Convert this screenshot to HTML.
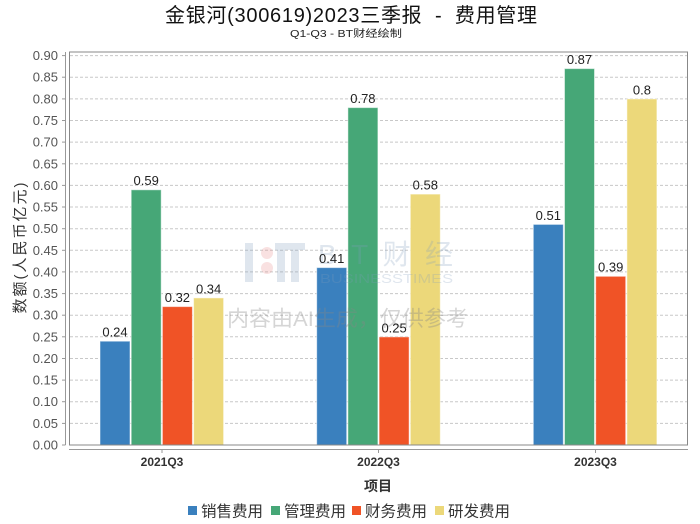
<!DOCTYPE html>
<html><head><meta charset="utf-8"><style>
html,body{margin:0;padding:0;background:#fff;}
svg{display:block;}
text{font-family:"Liberation Sans","Noto Sans CJK SC",sans-serif;}
</style></head><body>
<svg width="700" height="524" viewBox="0 0 700 524" xmlns="http://www.w3.org/2000/svg">
<rect width="700" height="524" fill="#fff"/>
<!-- title -->
<text x="351" y="22" font-size="20" fill="#111" textLength="372" lengthAdjust="spacing" text-anchor="middle">金银河(300619)2023三季报&#160;&#160;-&#160;&#160;费用管理</text>
<text x="346" y="37" font-size="10" fill="#222" textLength="112" lengthAdjust="spacingAndGlyphs" text-anchor="middle" font-family="'Liberation Mono','Noto Sans CJK SC',monospace">Q1-Q3&#160;-&#160;BT财经绘制</text>

<!-- gridlines -->
<g stroke="#c8c8c8" stroke-width="1" stroke-dasharray="3,2">
<line x1="70" x2="687" y1="423.4" y2="423.4"/>
<line x1="70" x2="687" y1="401.7" y2="401.7"/>
<line x1="70" x2="687" y1="380.1" y2="380.1"/>
<line x1="70" x2="687" y1="358.5" y2="358.5"/>
<line x1="70" x2="687" y1="336.8" y2="336.8"/>
<line x1="70" x2="687" y1="315.2" y2="315.2"/>
<line x1="70" x2="687" y1="293.6" y2="293.6"/>
<line x1="70" x2="687" y1="271.9" y2="271.9"/>
<line x1="70" x2="687" y1="250.3" y2="250.3"/>
<line x1="70" x2="687" y1="228.7" y2="228.7"/>
<line x1="70" x2="687" y1="207.0" y2="207.0"/>
<line x1="70" x2="687" y1="185.4" y2="185.4"/>
<line x1="70" x2="687" y1="163.8" y2="163.8"/>
<line x1="70" x2="687" y1="142.1" y2="142.1"/>
<line x1="70" x2="687" y1="120.5" y2="120.5"/>
<line x1="70" x2="687" y1="98.9" y2="98.9"/>
<line x1="70" x2="687" y1="77.2" y2="77.2"/>
<line x1="70" x2="687" y1="55.6" y2="55.6"/>
</g>

<!-- bars -->
<g stroke="#ffffff" stroke-opacity="0.5" stroke-width="1">
<rect x="100" y="341.2" width="30" height="103.8" fill="#3a80be"/>
<rect x="131.2" y="189.8" width="30" height="255.2" fill="#46a777"/>
<rect x="162.4" y="306.6" width="30" height="138.4" fill="#f05326"/>
<rect x="193.6" y="297.9" width="30" height="147.1" fill="#ecd87a"/>

<rect x="316.7" y="267.6" width="30" height="177.4" fill="#3a80be"/>
<rect x="347.9" y="107.6" width="30" height="337.4" fill="#46a777"/>
<rect x="379.1" y="336.9" width="30" height="108.1" fill="#f05326"/>
<rect x="410.3" y="194.1" width="30" height="250.9" fill="#ecd87a"/>

<rect x="533.3" y="224.4" width="30" height="220.6" fill="#3a80be"/>
<rect x="564.5" y="68.6" width="30" height="376.4" fill="#46a777"/>
<rect x="595.7" y="276.3" width="30" height="168.7" fill="#f05326"/>
<rect x="626.9" y="98.9" width="30" height="346.1" fill="#ecd87a"/>
</g>

<!-- watermark (on top, translucent) -->
<g>
<rect x="245" y="243" width="8" height="39" fill="#7f9bbb" fill-opacity="0.25"/>
<circle cx="267" cy="253" r="6" fill="#e88888" fill-opacity="0.25"/>
<circle cx="267" cy="268" r="6" fill="#e88888" fill-opacity="0.25"/>
<rect x="275" y="243" width="30" height="7" fill="#7f9bbb" fill-opacity="0.25"/>
<rect x="277" y="250" width="8" height="32" fill="#7f9bbb" fill-opacity="0.25"/>
<rect x="291" y="250" width="8" height="32" fill="#7f9bbb" fill-opacity="0.25"/>
<text x="318" y="264" font-size="28" fill="#7f9bbb" fill-opacity="0.25" font-family="'Liberation Serif','Noto Serif CJK SC',serif" textLength="135" lengthAdjust="spacing">BT财经</text>
<text x="320" y="283" font-size="13" fill="#7f9bbb" fill-opacity="0.25" font-family="'Liberation Serif',serif" textLength="133" lengthAdjust="spacingAndGlyphs">BUSINESSTIMES</text>
<text x="227" y="326" font-size="21.5" fill="#888888" fill-opacity="0.35" textLength="241" lengthAdjust="spacingAndGlyphs">内容由AI生成，仅供参考</text>
</g>

<!-- bar labels -->
<g font-size="13" fill="#222" text-anchor="middle">
<text x="115" y="336.5">0.24</text>
<text x="146.2" y="185.2">0.59</text>
<text x="177.4" y="302">0.32</text>
<text x="208.6" y="293.3">0.34</text>
<text x="331.7" y="263">0.41</text>
<text x="362.9" y="103">0.78</text>
<text x="394.1" y="332.3">0.25</text>
<text x="425.3" y="189.5">0.58</text>
<text x="548.3" y="219.8">0.51</text>
<text x="579.5" y="64">0.87</text>
<text x="610.7" y="271.7">0.39</text>
<text x="641.9" y="94.3">0.8</text>
</g>

<!-- plot frame -->
<rect x="69.5" y="52" width="618" height="393" fill="none" stroke="#888" stroke-width="1"/>
<!-- y axis -->
<line x1="65.5" y1="52" x2="65.5" y2="445" stroke="#999" stroke-width="1"/>
<g stroke="#999" stroke-width="1">
<line x1="62" x2="65.5" y1="445" y2="445"/>
<line x1="62" x2="65.5" y1="423.4" y2="423.4"/>
<line x1="62" x2="65.5" y1="401.7" y2="401.7"/>
<line x1="62" x2="65.5" y1="380.1" y2="380.1"/>
<line x1="62" x2="65.5" y1="358.5" y2="358.5"/>
<line x1="62" x2="65.5" y1="336.8" y2="336.8"/>
<line x1="62" x2="65.5" y1="315.2" y2="315.2"/>
<line x1="62" x2="65.5" y1="293.6" y2="293.6"/>
<line x1="62" x2="65.5" y1="271.9" y2="271.9"/>
<line x1="62" x2="65.5" y1="250.3" y2="250.3"/>
<line x1="62" x2="65.5" y1="228.7" y2="228.7"/>
<line x1="62" x2="65.5" y1="207.0" y2="207.0"/>
<line x1="62" x2="65.5" y1="185.4" y2="185.4"/>
<line x1="62" x2="65.5" y1="163.8" y2="163.8"/>
<line x1="62" x2="65.5" y1="142.1" y2="142.1"/>
<line x1="62" x2="65.5" y1="120.5" y2="120.5"/>
<line x1="62" x2="65.5" y1="98.9" y2="98.9"/>
<line x1="62" x2="65.5" y1="77.2" y2="77.2"/>
<line x1="62" x2="65.5" y1="55.6" y2="55.6"/>
</g>
<g font-size="13" fill="#555" text-anchor="end">
<text x="58" y="449.5">0.00</text>
<text x="58" y="427.9">0.05</text>
<text x="58" y="406.2">0.10</text>
<text x="58" y="384.6">0.15</text>
<text x="58" y="363">0.20</text>
<text x="58" y="341.3">0.25</text>
<text x="58" y="319.7">0.30</text>
<text x="58" y="298.1">0.35</text>
<text x="58" y="276.4">0.40</text>
<text x="58" y="254.8">0.45</text>
<text x="58" y="233.2">0.50</text>
<text x="58" y="211.5">0.55</text>
<text x="58" y="189.9">0.60</text>
<text x="58" y="168.3">0.65</text>
<text x="58" y="146.6">0.70</text>
<text x="58" y="125">0.75</text>
<text x="58" y="103.4">0.80</text>
<text x="58" y="81.7">0.85</text>
<text x="58" y="60.1">0.90</text>
</g>
<text transform="translate(25,248) rotate(-90)" font-size="15" fill="#333" text-anchor="middle" textLength="131" lengthAdjust="spacing">数额(人民币亿元)</text>

<!-- x axis -->
<line x1="69" y1="449.5" x2="688" y2="449.5" stroke="#999" stroke-width="1"/>
<g stroke="#999" stroke-width="1">
<line x1="162" x2="162" y1="449.5" y2="453"/>
<line x1="378.5" x2="378.5" y1="449.5" y2="453"/>
<line x1="595.5" x2="595.5" y1="449.5" y2="453"/>
</g>
<g font-size="12" fill="#333" text-anchor="middle" font-weight="bold">
<text x="162" y="466">2021Q3</text>
<text x="378.5" y="466">2022Q3</text>
<text x="595.5" y="466">2023Q3</text>
</g>
<text x="378" y="491" font-size="14" font-weight="bold" fill="#333" text-anchor="middle">项目</text>

<!-- legend -->
<g font-size="15.5" fill="#333">
<rect x="188" y="506" width="9" height="9" fill="#3a80be"/>
<text x="201" y="516.5">销售费用</text>
<rect x="271" y="506" width="9" height="9" fill="#46a777"/>
<text x="284" y="516.5">管理费用</text>
<rect x="352" y="506" width="9" height="9" fill="#f05326"/>
<text x="365" y="516.5">财务费用</text>
<rect x="435" y="506" width="9" height="9" fill="#ecd87a"/>
<text x="448" y="516.5">研发费用</text>
</g>
</svg>
</body></html>
